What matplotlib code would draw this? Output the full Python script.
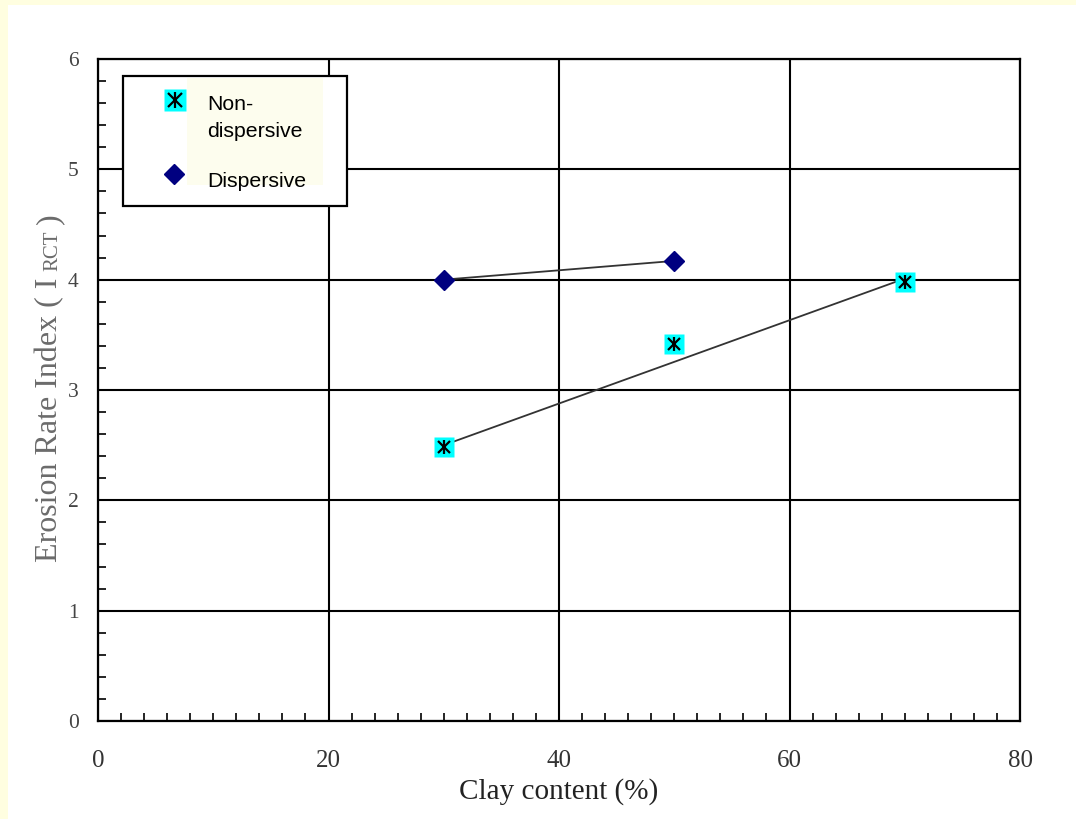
import matplotlib.pyplot as plt
from matplotlib.patches import Rectangle
from matplotlib.ticker import MultipleLocator

# data
clay_nd = [30, 50, 70]
eri_nd = [2.48, 3.42, 3.98]
trend_nd_x = [30, 70]
trend_nd_y = [2.50, 4.01]

clay_d = [30, 50]
eri_d = [4.00, 4.17]

x_ticks = [0, 20, 40, 60, 80]
y_ticks = [0, 1, 2, 3, 4, 5, 6]

W, H = 1076, 819
fig = plt.figure(figsize=(W / 100, H / 100), dpi=100, facecolor='#fffee0')
# white page area
fig.patches.append(Rectangle((8 / W, 0), 1 - 8 / W, 1 - 5 / H, transform=fig.transFigure,
                             facecolor='white', edgecolor='none', zorder=-5))

L, R, T, B = 98, 1020, 59, 721
ax = fig.add_axes([L / W, 1 - B / H, (R - L) / W, (B - T) / H])
ax.set_facecolor('white')


def nd_marker(xs, ys, size, **kw):
    # cyan square with a black "Ж"-like asterisk on top
    ax.plot(xs, ys, ls='none', marker='s', ms=size, mfc='#00ffff', mec='none', zorder=4, **kw)
    ax.plot(xs, ys, ls='none', marker='x', ms=size * 0.62, mec='black', mew=1.6, zorder=5, **kw)
    ax.plot(xs, ys, ls='none', marker='|', ms=size * 0.7, mec='black', mew=1.6, zorder=5, **kw)


ax.plot(trend_nd_x, trend_nd_y, color='#333333', lw=1.3, zorder=3)
ax.plot(clay_d, eri_d, color='#333333', lw=1.3, zorder=3)
nd_marker(clay_nd, eri_nd, 14.5)
ax.plot(clay_d, eri_d, ls='none', marker='D', ms=9.8, mfc='#000080', mec='#000080', zorder=5)

ax.set_xlim(0, 80)
ax.set_ylim(0, 6)
ax.set_xticks(x_ticks)
ax.set_yticks(y_ticks)
ax.xaxis.set_minor_locator(MultipleLocator(2))
ax.yaxis.set_minor_locator(MultipleLocator(0.2))
ax.grid(True, which='major', color='black', lw=1.5)
ax.tick_params(which='both', direction='in', top=False, right=False)
ax.tick_params(which='major', length=0)
ax.tick_params(which='minor', length=6, width=1.2, color='black')
ax.tick_params(axis='x', which='major', pad=21, labelsize=18, labelcolor='#333333')
ax.tick_params(axis='y', which='major', pad=14, labelsize=15.5, labelcolor='#444444')
for lab in ax.get_xticklabels() + ax.get_yticklabels():
    lab.set_family('Liberation Serif')
for sp in ax.spines.values():
    sp.set_linewidth(1.6)
    sp.set_color('black')

ax.set_xlabel('Clay content (%)', family='Liberation Serif', fontsize=21, color='#222222', labelpad=4)


def ax_pt(px, py):
    return (px - L) / (R - L), (B - py) / (B - T)


# legend box
x0, y0 = ax_pt(123, 206)
x1, y1 = ax_pt(347, 76)
ax.add_patch(Rectangle((x0, y0), x1 - x0, y1 - y0, transform=ax.transAxes, facecolor='white',
                       edgecolor='black', lw=1.6, zorder=10, clip_on=False))
x0, y0 = ax_pt(187, 185)
x1, y1 = ax_pt(323, 78)
ax.add_patch(Rectangle((x0, y0), x1 - x0, y1 - y0, transform=ax.transAxes, facecolor='#fdfdee',
                       edgecolor='none', zorder=11, clip_on=False))
mx, my = ax_pt(175, 100)
ax.plot([mx], [my], transform=ax.transAxes, marker='s', ms=16, mfc='#00ffff', mec='none', zorder=12, clip_on=False)
ax.plot([mx], [my], transform=ax.transAxes, marker='x', ms=10, mec='black', mew=1.6, zorder=13, clip_on=False)
ax.plot([mx], [my], transform=ax.transAxes, marker='|', ms=11, mec='black', mew=1.6, zorder=13, clip_on=False)
mx, my = ax_pt(174, 174)
ax.plot([mx], [my], transform=ax.transAxes, marker='D', ms=10, mfc='#000080', mec='#000080', zorder=13, clip_on=False)
for txt, py in [('Non-', 110), ('dispersive', 137), ('Dispersive', 187)]:
    tx, ty = ax_pt(207, py)
    ax.text(tx, ty, txt, transform=ax.transAxes, family='Liberation Sans', fontsize=15.3,
            ha='left', va='baseline', color='black', zorder=14)

# y label with small "RCT"
renderer = fig.canvas.get_renderer()
parts = [('Erosion Rate Index ( I', 23, 7), ('RCT', 15, 6), (')', 23, 0)]
lengths = []
for s, fs, gap in parts:
    t = fig.text(0, 0, s, family='Liberation Serif', fontsize=fs, rotation=90)
    lengths.append(t.get_window_extent(renderer).height)
    t.remove()
total = sum(lengths) + sum(p[2] for p in parts)
ypos = 388 + total / 2
for (s, fs, gap), ln in zip(parts, lengths):
    fig.text(57 / W, 1 - ypos / H, s, family='Liberation Serif', fontsize=fs, rotation=90,
             rotation_mode='anchor', ha='left', va='baseline', color='#6b6b6b')
    ypos -= ln + gap

fig.savefig('out.png', dpi=100, facecolor=fig.get_facecolor())
